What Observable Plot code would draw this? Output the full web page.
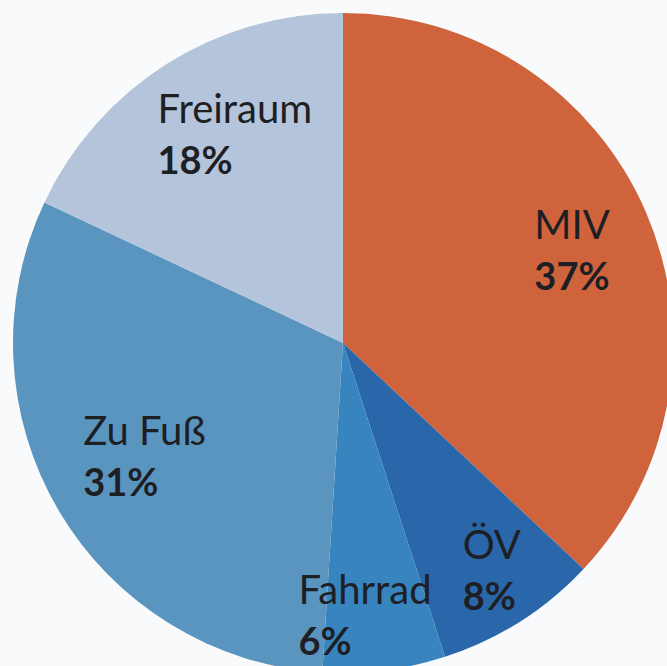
<!DOCTYPE html>
<html>
<head>
<meta charset="utf-8">
<script src="https://cdn.jsdelivr.net/npm/d3@7"></script>
<script src="https://cdn.jsdelivr.net/npm/@observablehq/plot@0.6"></script>
<style>
  html, body { margin: 0; padding: 0; background: #f9fafc; }
  #chart { width: 667px; height: 666px; overflow: hidden; }
</style>
</head>
<body>
<div id="chart"></div>
<script>
// Data
const categories = ["MIV", "ÖV", "Fahrrad", "Zu Fuß", "Freiraum"];
const shares = [37, 8, 6, 31, 18];
const labels = ["37%", "8%", "6%", "31%", "18%"];
const colors = ["#cf633c", "#2a67aa", "#3884be", "#5a95c0", "#b4c4da"];

// Layout (label anchor: angle clockwise from 12 o'clock, radius as fraction of pie radius)
const labelAngle = [61.2, 151.1, 189.8, 248.6, 319.9];
const labelRadius = [0.66, 0.747, 0.80, 0.847, 0.875];

const W = 667, H = 666;
const cx = 343, cy = 343, R = 330;

const table = categories.map((c, i) => ({
  category: c,
  share: shares[i],
  label: labels[i],
  lx: labelRadius[i] * Math.sin(labelAngle[i] * Math.PI / 180),
  ly: labelRadius[i] * Math.cos(labelAngle[i] * Math.PI / 180)
}));

const colorScale = Plot.scale({color: {type: "ordinal", domain: categories, range: colors}});

const pieMark = (index, scales) => {
  const x0 = scales.x(0), y0 = scales.y(0);
  const r = scales.x(1) - scales.x(0);
  const arcs = d3.pie().sort(null).value(d => d.share)(table);
  const arc = d3.arc().innerRadius(0).outerRadius(r);
  const g = d3.create("svg:g").attr("transform", `translate(${x0},${y0})`);
  g.selectAll("path")
    .data(arcs)
    .join("path")
    .attr("d", arc)
    .attr("fill", d => colorScale.apply(d.data.category));
  return g.node();
};

const chart = Plot.plot({
  width: W,
  height: H,
  margin: 0,
  style: {background: "#f9fafc", overflow: "hidden"},
  x: {domain: [-cx / R, (W - cx) / R], range: [0, W], axis: null},
  y: {domain: [-(H - cy) / R, cy / R], range: [H, 0], axis: null},
  marks: [
    pieMark,
    Plot.text(table, {
      x: "lx", y: "ly", text: "category",
      textAnchor: "start", lineAnchor: "bottom",
      fontSize: 40, fontFamily: "Lato", fontWeight: 400, fill: "#1e1f24"
    }),
    Plot.text(table, {
      x: "lx", y: "ly", text: "label",
      textAnchor: "start", lineAnchor: "bottom", dy: 51,
      fontSize: 38, fontFamily: "Lato", fontWeight: 700, fill: "#1e1f24"
    })
  ]
});

document.getElementById("chart").appendChild(chart);
</script>
</body>
</html>
